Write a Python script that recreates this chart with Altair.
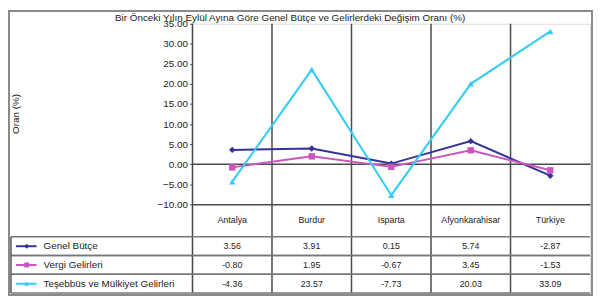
import altair as alt
import pandas as pd

categories = ["Antalya", "Burdur", "Isparta", "Afyonkarahisar", "Türkiye"]
series_names = ["Genel Bütçe", "Vergi Gelirleri", "Teşebbüs ve Mülkiyet Gelirleri"]
genel_butce = [3.56, 3.91, 0.15, 5.74, -2.87]
vergi_gelirleri = [-0.80, 1.95, -0.67, 3.45, -1.53]
tesebbus = [-4.36, 23.57, -7.73, 20.03, 33.09]
y_ticks = [-10, -5, 0, 5, 10, 15, 20, 25, 30, 35]
colors = ["#333399", "#cc55bb", "#33ccf5"]
shapes = ["diamond", "square", "triangle-up"]
title_text = "Bir Önceki Yılın Eylül Ayına Göre Genel Bütçe ve Gelirlerdeki Değişim Oranı (%)"

rows = []
for s, vals in zip(series_names, [genel_butce, vergi_gelirleri, tesebbus]):
    for c, v in zip(categories, vals):
        rows.append({"category": c, "series": s, "value": v, "label": f"{v:.2f}"})
df = pd.DataFrame(rows)
cat_df = pd.DataFrame({"category": categories})
ser_df = pd.DataFrame({"series": series_names})
one_df = pd.DataFrame({"a": [0]})

FONT = "Liberation Sans"
GRID = "#4a4a4a"
W, H = 403, 273

x_scale = alt.Scale(domain=categories, type="band", paddingInner=0, paddingOuter=0)
X = alt.X("category:N", sort=categories, title=None, scale=x_scale, axis=None)

y_line_scale = alt.Scale(domain=[-10, 35], range=[183, 0], nice=False, zero=False)
Y_line = alt.Y("value:Q", scale=y_line_scale,
               axis=alt.Axis(values=y_ticks, format=".2f", title="Oran (%)", titleX=-179, titleY=91,
                             titleBaseline="middle", titleAlign="center",
                             titleFontWeight="normal", titleFontSize=10, titleFont=FONT, titleColor="#222",
                             labelFontSize=10, labelFont=FONT, labelColor="#222", tickSize=3,
                             tickColor=GRID, domain=False, grid=True, gridWidth=1.5,
                             gridColor={"condition": {"test": "datum.value === 0 || datum.value === -10",
                                                      "value": GRID}, "value": "transparent"}))
Y_line_noaxis = alt.Y("value:Q", scale=y_line_scale, axis=None)

row_scale = alt.Scale(domain=series_names, range=[216, 273], type="band", paddingInner=0, paddingOuter=0)
Y_row = alt.Y("series:N", scale=row_scale, axis=None)

color = alt.Color("series:N", scale=alt.Scale(domain=series_names, range=colors), legend=None)
shape = alt.Shape("series:N", scale=alt.Scale(domain=series_names, range=shapes), legend=None)

vgrid = alt.Chart(cat_df).mark_rule(color=GRID, strokeWidth=1.5).encode(
    x=alt.X("category:N", sort=categories, scale=x_scale, axis=None, bandPosition=0),
    y=alt.value(0), y2=alt.value(H))

line = alt.Chart(df).mark_line(strokeWidth=2).encode(x=X, y=Y_line, color=color)
points = alt.Chart(df).mark_point(filled=True, size=42, opacity=1).encode(
    x=X, y=Y_line_noaxis, color=color, shape=shape)

values_txt = alt.Chart(df).mark_text(fontSize=9, font=FONT, color="#222").encode(
    x=X, y=Y_row, text="label:N")
header_txt = alt.Chart(cat_df).mark_text(fontSize=9, font=FONT, color="#222").encode(
    x=X, y=alt.value(199), text="category:N")

rules_top = alt.Chart(ser_df).mark_rule(color="#777", strokeWidth=1.5).encode(
    x=alt.value(-184), x2=alt.value(W),
    y=alt.Y("series:N", scale=row_scale, axis=None, bandPosition=0))
rules_bot = alt.Chart(ser_df).mark_rule(color="#777", strokeWidth=1.5).encode(
    x=alt.value(-184), x2=alt.value(W),
    y=alt.Y("series:N", scale=row_scale, axis=None, bandPosition=1))
left_rule = alt.Chart(one_df).mark_rule(color="#555", strokeWidth=1.5).encode(
    x=alt.value(-184), y=alt.value(216), y2=alt.value(273))

key_line = alt.Chart(ser_df).mark_rule(strokeWidth=2).encode(
    x=alt.value(-179), x2=alt.value(-158), y=Y_row, color=color)
key_pt = alt.Chart(ser_df).mark_point(filled=True, size=25, opacity=1).encode(
    x=alt.value(-168), y=Y_row, color=color, shape=shape)
key_txt = alt.Chart(ser_df).mark_text(align="left", fontSize=10, font=FONT, color="#222").encode(
    x=alt.value(-151), y=Y_row, text="series:N")

title_mark = alt.Chart(one_df).mark_text(text=title_text, fontSize=10, font=FONT, color="#222",
                                         align="center", baseline="middle").encode(
    x=alt.value(99), y=alt.value(-6))

border = alt.Chart(one_df).mark_rect(fillOpacity=0, stroke="#8a8a8a", strokeWidth=2).encode(
    x=alt.value(-186), x2=alt.value(W + 2), y=alt.value(-13), y2=alt.value(H + 2))

chart = alt.layer(
    vgrid, line, points, values_txt, header_txt, rules_top, rules_bot, left_rule,
    key_line, key_pt, key_txt, title_mark, border
).resolve_scale(y="independent").properties(
    width=W, height=H,
    autosize=alt.AutoSizeParams(type="none"),
    padding={"left": 187, "top": 14, "right": 3, "bottom": 3},
).configure_view(stroke=GRID, strokeWidth=1.5).configure(background="white")

chart.save("out.html", embed_options={"renderer": "svg", "actions": False})
